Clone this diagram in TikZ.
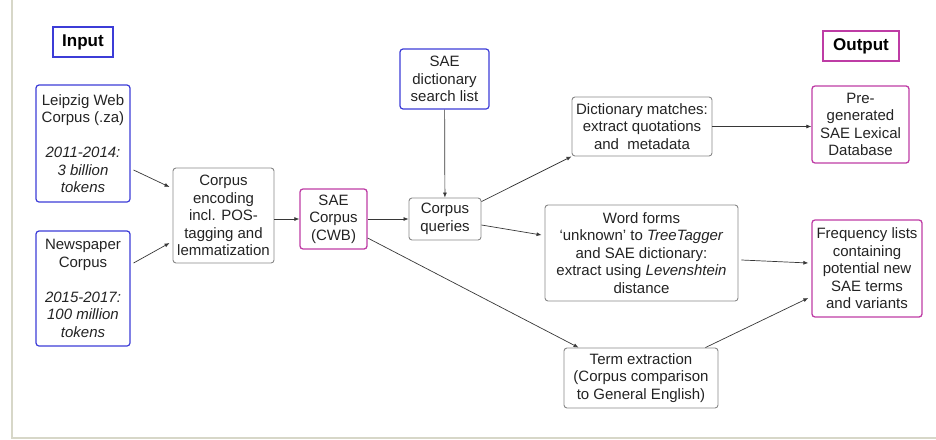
\documentclass[tikz,border=0pt]{standalone}
\usepackage{fontspec}
\setmainfont{Liberation Sans}
\usetikzlibrary{arrows.meta}
\definecolor{bordeAzul}{RGB}{60,60,215}
\definecolor{bordeMagenta}{RGB}{190,60,165}
\definecolor{bordeGris}{RGB}{135,135,135}
\definecolor{flechaGris}{RGB}{55,55,55}
\definecolor{marcoGris}{RGB}{215,215,200}
\definecolor{textoGris}{RGB}{35,35,35}

\begin{document}
\begin{tikzpicture}[x=1pt, y=-1pt,
    caja/.style={draw, rounded corners=3pt, align=center, inner sep=0pt, text=textoGris,
        font=\fontsize{15}{17.5}\selectfont},
    cajaAzul/.style={caja, draw=bordeAzul, line width=1.2pt},
    cajaMagenta/.style={caja, draw=bordeMagenta, line width=1.3pt},
    cajaGris/.style={caja, draw=bordeGris, line width=0.9pt},
    titulo/.style={draw, line width=1.8pt, inner sep=0pt, font=\fontsize{17}{20}\selectfont\bfseries},
    flecha/.style={draw=flechaGris, line width=0.7pt, -{Latex[length=5pt,width=4pt]}}]
            \useasboundingbox (0,0) rectangle (936,439);

            % MARCO
            \draw[marcoGris, line width=1.2pt] (12,0) -- (12,438) -- (936,438);

            % TITULOS
            \node[titulo, draw=bordeAzul, minimum width=60, minimum height=30] (inputLbl) at (83,42) {Input};
            \node[titulo, draw=bordeMagenta, minimum width=76, minimum height=30] (outputLbl) at (861,46) {Output};

            % ENTRADAS
            % Leipzig
            \node[cajaAzul, minimum width=94, minimum height=117] (leipzig) at (83,143.5)
            {Leipzig Web\\Corpus (.za)\\[17.5pt]\textit{2011-2014:}\\\textit{3 billion}\\\textit{tokens}};
            % Periodicos
            \node[cajaAzul, minimum width=94, minimum height=115] (newspaper) at (83,288.5)
            {Newspaper\\Corpus\\[17.5pt]\textit{2015-2017:}\\\textit{100 million}\\\textit{tokens}};
            % Lista de busqueda
            \node[cajaAzul, minimum width=89, minimum height=60] (searchList) at (444.5,79)
            {SAE\\dictionary\\search list};

            % PROCESO
            \node[cajaGris, minimum width=101, minimum height=95] (encoding) at (223.5,215.5)
            {Corpus\\encoding\\incl. POS-\\tagging and\\lemmatization};
            \node[cajaMagenta, minimum width=67, minimum height=60] (saeCorpus) at (333.5,219)
            {SAE\\Corpus\\(CWB)};
            \node[cajaGris, minimum width=72, minimum height=42] (queries) at (445,219)
            {Corpus\\queries};
            \node[cajaGris, minimum width=140, minimum height=59] (dictMatches) at (642,126.5)
            {Dictionary matches:\\extract quotations\\and\ \ metadata};
            \node[cajaGris, minimum width=193, minimum height=96] (wordForms) at (641.5,253)
            {Word forms\\‘unknown’ to \textit{TreeTagger}\\and SAE dictionary:\\extract using \textit{Levenshtein}\\distance};
            \node[cajaGris, minimum width=154, minimum height=60] (termExtr) at (641,378)
            {Term extraction\\(Corpus comparison\\to General English)};

            % SALIDAS
            \node[cajaMagenta, minimum width=97, minimum height=77] (lexDB) at (860.5,124.5)
            {Pre-\\generated\\SAE Lexical\\Database};
            \node[cajaMagenta, minimum width=110, minimum height=97] (freqLists) at (867,268.5)
            {Frequency lists\\containing\\potential new\\SAE terms\\and variants};

            % FLECHAS
            \draw[flecha] ([xshift=3pt,yshift=-26.5pt]leipzig.east) -- ([xshift=-3pt,yshift=28.5pt]encoding.west);
            \draw[flecha] ([xshift=3pt,yshift=25.5pt]newspaper.east) -- ([xshift=-3pt,yshift=-27.5pt]encoding.west);
            \draw[flecha] (encoding.east |- saeCorpus) -- (saeCorpus);
            \draw[flecha] (saeCorpus) -- (queries);
            \draw[flecha] (searchList) -- (queries);
            \draw[flecha] ([yshift=-4pt]queries.north east) -- (dictMatches.south west);
            \draw[flecha] ([yshift=-6pt]queries.east) -- ([xshift=-3pt,yshift=18pt]wordForms.west);
            \draw[flecha] ([yshift=-19pt]saeCorpus.east) -- ([xshift=15pt]termExtr.north west);
            \draw[flecha] (dictMatches.east) -- (lexDB.west |- dictMatches.east);
            \draw[flecha] ([xshift=3pt,yshift=-7pt]wordForms.east) -- ([xshift=-3pt,yshift=5.5pt]freqLists.west);
            \draw[flecha] ([xshift=-13pt]termExtr.north east) -- ([xshift=-3pt,yshift=-29.5pt]freqLists.west);
        \end{tikzpicture}
\end{document}
